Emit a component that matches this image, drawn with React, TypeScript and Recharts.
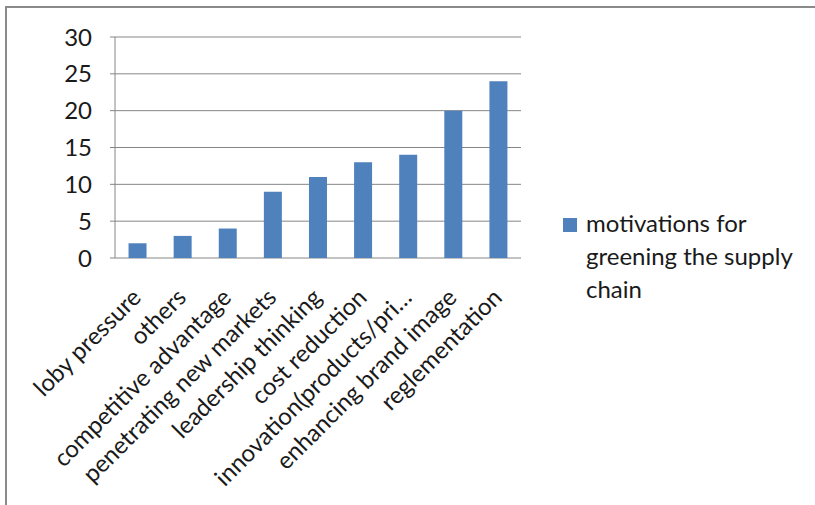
import * as React from "react";
import { BarChart, Bar, XAxis, YAxis, CartesianGrid } from "recharts";

const categories = [
  "loby pressure",
  "others",
  "competitive advantage",
  "penetrating new markets",
  "leadership thinking",
  "cost reduction",
  "innovation(products/pri…",
  "enhancing brand image",
  "reglementation",
];
const motivations = [2, 3, 4, 9, 11, 13, 14, 20, 24];
const yTicks = [0, 5, 10, 15, 20, 25, 30];
const seriesName = "motivations for greening the supply chain";

const data = categories.map((name, i) => ({ name, value: motivations[i] }));
// category boundaries, excel puts the x tick marks between the bars
const edges = categories.map((_, i) => i).concat(categories.length);

const FONT = "Lato, 'Open Sans', sans-serif";
const GRID = "#868686";
const TEXT = "#1a1a1a";

const AngledTick = ({ x, y, payload }: any) => (
  <g transform={`translate(${x + 5},${y + 33})`}>
    <text transform="rotate(-45)" textAnchor="end" fontSize={24} fontFamily={FONT} fill={TEXT}>
      {payload.value}
    </text>
  </g>
);

export default function App() {
  return (
    <div style={{ position: "absolute", left: 0, top: 0, width: 815, height: 505, background: "#fff" }}>
      <div
        style={{
          position: "absolute",
          left: 5,
          top: 6,
          width: 810,
          height: 499,
          borderTop: "2px solid #8a8a8a",
          borderLeft: "2px solid #8a8a8a",
        }}
      />
      <BarChart
        width={815}
        height={505}
        data={data}
        margin={{ top: 37, right: 294, left: 65, bottom: 7 }}
        barCategoryGap="30%"
      >
        <CartesianGrid xAxisId="cat" vertical={false} stroke={GRID} strokeWidth={1} />
        <XAxis
          xAxisId="edges"
          type="number"
          domain={[0, categories.length]}
          ticks={edges}
          allowDataOverflow
          height={0}
          stroke={GRID}
          tickSize={7}
          tick={false}
        />
        <XAxis
          xAxisId="cat"
          dataKey="name"
          interval={0}
          height={240}
          axisLine={false}
          tickLine={false}
          tick={<AngledTick />}
        />
        <YAxis
          domain={[0, 30]}
          ticks={yTicks}
          width={50}
          stroke={GRID}
          tickSize={5}
          tickMargin={18}
          tick={{ fontSize: 24, fontFamily: FONT, fill: TEXT }}
        />
        <Bar xAxisId="cat" dataKey="value" name={seriesName} fill="#4F81BD" isAnimationActive={false} />
      </BarChart>
      <div
        style={{
          position: "absolute",
          left: 563,
          top: 206,
          fontFamily: FONT,
          fontSize: 24,
          lineHeight: "33px",
          color: TEXT,
          display: "flex",
        }}
      >
        <div style={{ width: 14, height: 14, background: "#4F81BD", marginTop: 12, marginRight: 9, flexShrink: 0 }} />
        <div style={{ width: 222 }}>{seriesName}</div>
      </div>
    </div>
  );
}
